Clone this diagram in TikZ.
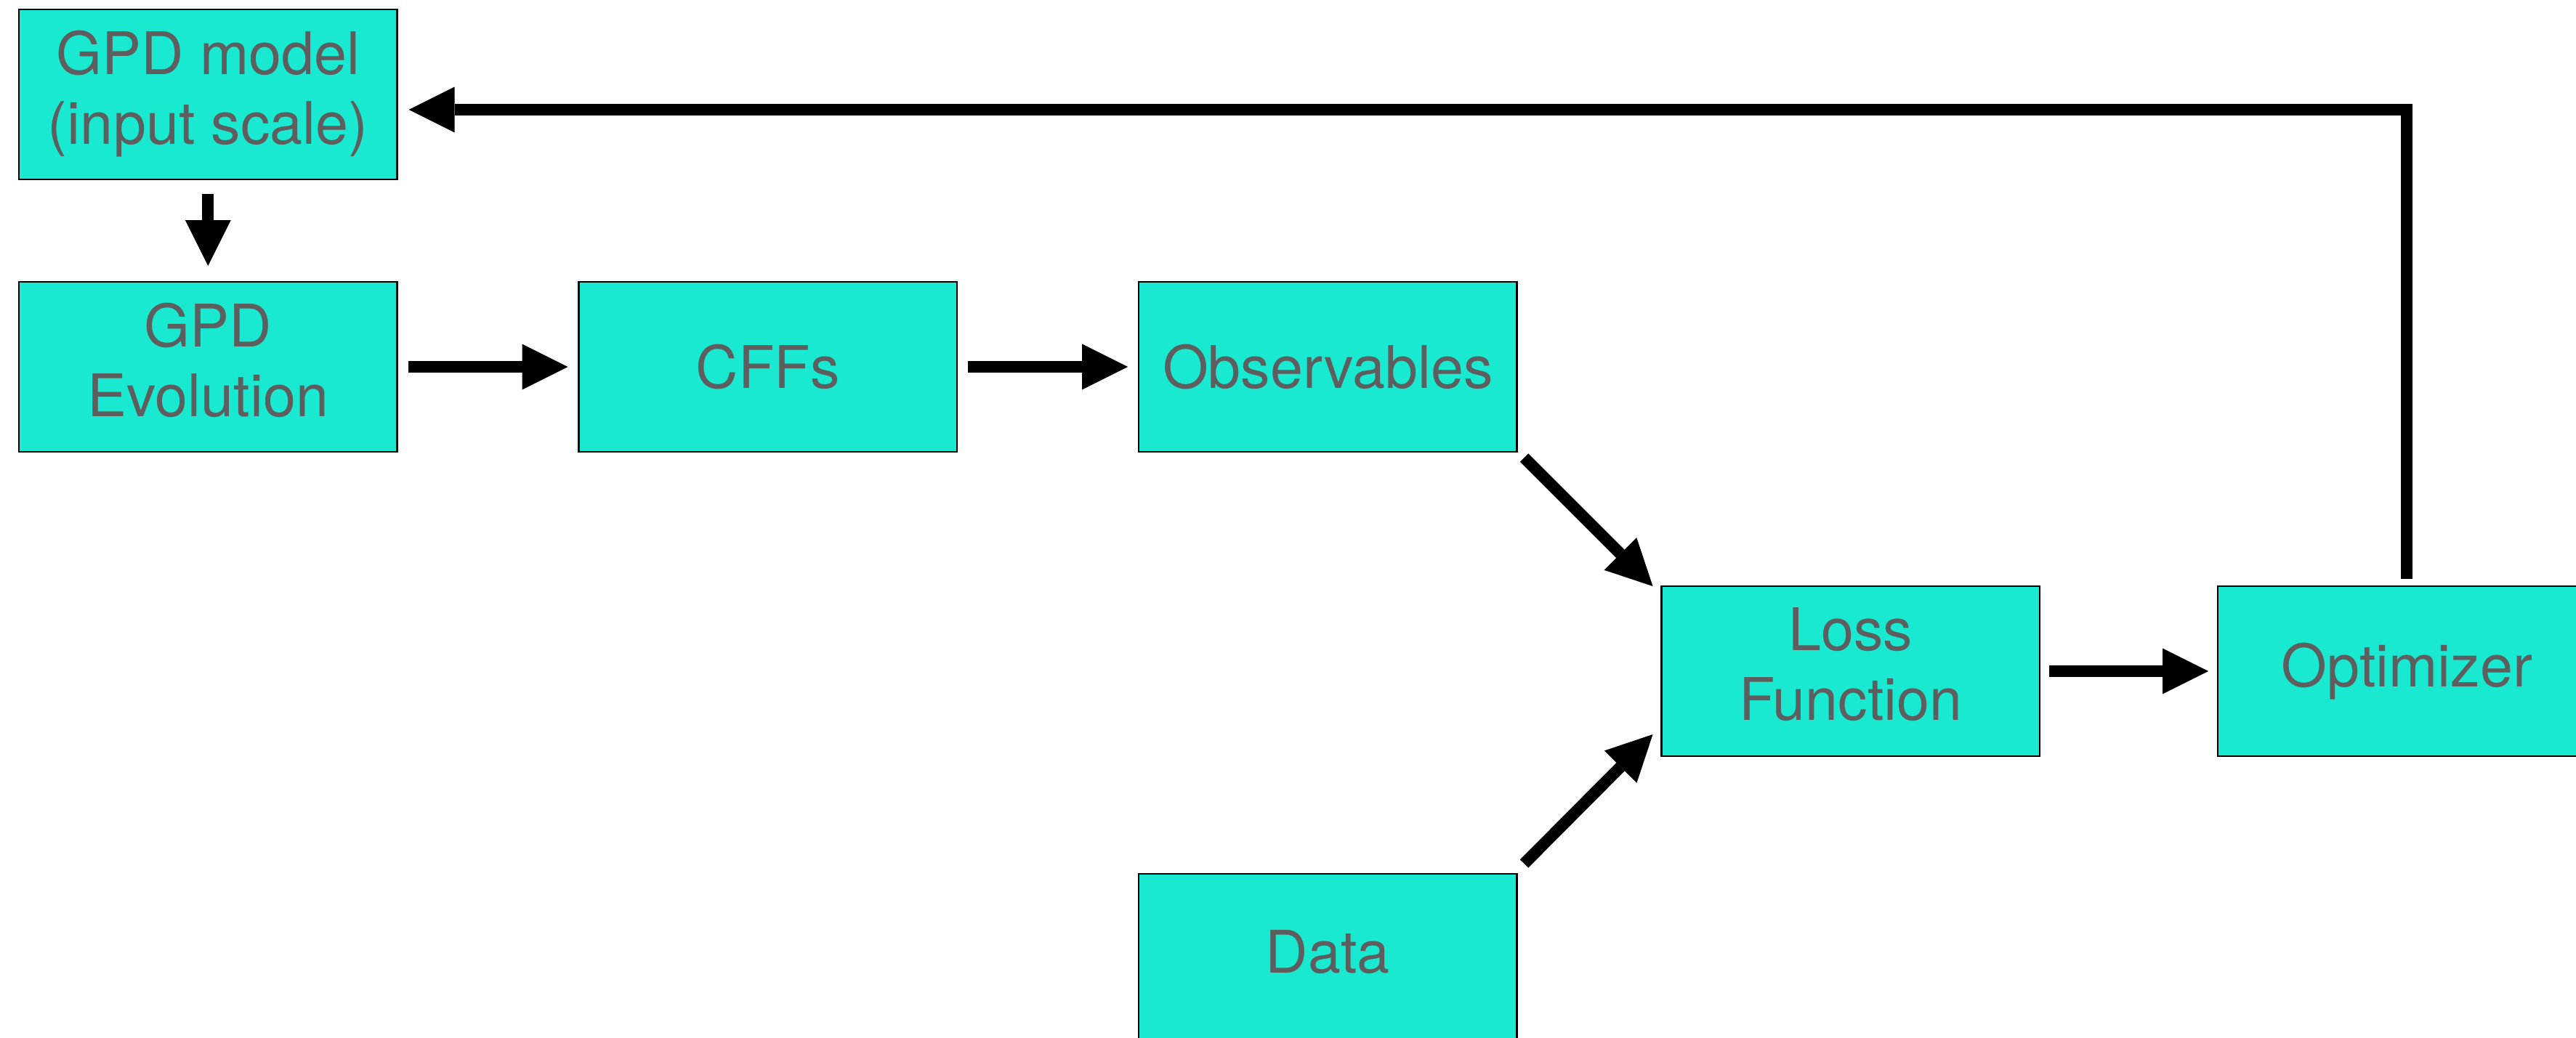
\documentclass[tikz,border=0pt]{standalone}
\usepackage{fontspec}
\setmainfont{TeX Gyre Heros}
\usetikzlibrary{positioning,arrows.meta}
\definecolor{boxcyan}{RGB}{24,233,208}
\definecolor{boxtext}{RGB}{94,94,94}
\begin{document}
\begin{tikzpicture}[arr/.style={line width=0.16cm,-{Triangle[length=0.63cm,width=0.63cm,line width=0pt]}},raised/.style={text depth=0.2cm}]
\tikzstyle{block}=[rectangle,draw=black,line width=0.6pt,fill=boxcyan,text=boxtext,minimum width=5.205cm,minimum height=2.34cm,inner sep=0pt,outer sep=0pt,align=center,font=\fontsize{23pt}{27.3pt}\selectfont]
\useasboundingbox (0,0) rectangle (35.45,-14.29);
\node[block,raised,anchor=north west] (gpd) at (0.26,-0.13) {GPD model\\(input scale)};
\node[block,raised,below=1.41cm of gpd] (evo) {GPD\\Evolution};
\node[block,right=2.5cm of evo] (cff) {CFFs};
\node[block,right=2.5cm of cff] (obs) {Observables};
\node[block,raised,below right=1.85cm and 1.99cm of obs] (loss) {Loss\\Function};
\node[block,right=2.45cm of loss] (opt) {Optimizer};
\node[block,raised,below left=1.62cm and 1.99cm of loss] (data) {Data};
\draw[arr] ([yshift=-0.2cm]gpd.south) -- ([yshift=0.22cm]evo.north);
\draw[arr] ([xshift=0.15cm]evo.east) -- ([xshift=-0.15cm]cff.west);
\draw[arr] ([xshift=0.15cm]cff.east) -- ([xshift=-0.15cm]obs.west);
\draw[arr] ([shift={(0.1,-0.08)}]obs.south east) -- ([xshift=-0.12cm]loss.north west);
\draw[arr] ([shift={(0.1,0.14)}]data.north east) -- ([shift={(-0.12,0.3)}]loss.south west);
\draw[arr] ([xshift=0.13cm]loss.east) -- ([xshift=-0.13cm]opt.west);
\draw[arr] ([yshift=0.1cm]opt.north) |- ([shift={(0.16,-0.21)}]gpd.east);
\end{tikzpicture}
\end{document}
